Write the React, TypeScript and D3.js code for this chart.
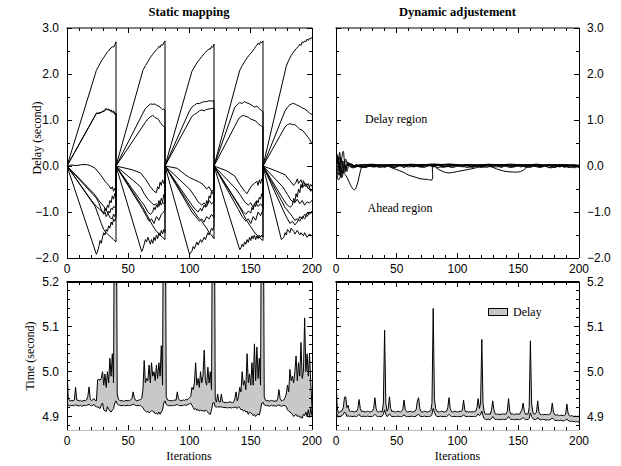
import React from "react";
import * as d3 from "d3";

type Pt = [number, number];

// ---------- tick values ----------
const iterTicks = [0, 50, 100, 150, 200];
const iterMinorTicks = d3.range(0, 201, 10);
const delayTicks = [-2, -1, 0, 1, 2, 3];
const delayMinorTicks = d3.range(-2, 3.001, 0.5);
const timeTicks = [4.9, 5.0, 5.1, 5.2];
const timeMinorTicks = d3.range(4.88, 5.2001, 0.02);

// ---------- static mapping: delay per processor (iteration, seconds) ----------
const staticTop: Pt[] = [[0,0],[24,2.08],[26,2.18],[28,2.28],[30,2.36],[32,2.44],[33,2.48],[34,2.5],[35,2.55],[36,2.56],[37,2.6],[38,2.58],[39,2.63],[40,2.7],
  [40,0],[62,2.08],[64,2.18],[66,2.27],[68,2.36],[70,2.43],[72,2.5],[74,2.55],[75,2.6],[76,2.58],[77,2.64],[78,2.62],[79,2.68],[80,2.72],
  [80,0],[102,2.06],[104,2.15],[106,2.24],[108,2.31],[110,2.38],[112,2.44],[113,2.47],[114,2.5],[115,2.52],[116,2.55],[117,2.54],[118,2.6],[119,2.58],[120,2.65],
  [120,0],[141,2.08],[143,2.18],[145,2.27],[147,2.35],[149,2.42],[151,2.48],[152,2.52],[153,2.55],[154,2.6],[155,2.62],[156,2.67],[157,2.64],[158,2.7],[159,2.68],[160,2.72],
  [160,0],[179,2.17],[181,2.3],[183,2.4],[185,2.48],[187,2.55],[189,2.6],[190,2.65],[191,2.62],[192,2.7],[193,2.68],[194,2.72],[195,2.7],[196,2.76],[197,2.73],[198,2.78],[199,2.76],[200,2.8]];
const staticMidA: Pt[] = [[0,0],[24,1.15],[26,1.15],[28,1.17],[30,1.2],[31,1.23],[32,1.25],[33,1.22],[34,1.24],[35,1.2],[36,1.22],[37,1.18],[38,1.2],[39,1.14],[40,1.15],
  [40,0],[62,1.15],[64,1.25],[66,1.3],[68,1.35],[70,1.34],[72,1.35],[73,1.32],[75,1.3],[76,1.28],[77,1.25],[78,1.22],[79,1.24],[80,1.22],
  [80,0],[100,1.2],[102,1.28],[104,1.32],[106,1.36],[108,1.36],[110,1.38],[112,1.4],[114,1.4],[116,1.42],[118,1.41],[120,1.42],
  [120,0],[137,1.28],[139,1.33],[141,1.38],[143,1.36],[145,1.4],[147,1.37],[149,1.35],[151,1.32],[153,1.28],[155,1.3],[157,1.25],[158,1.22],[159,1.2],[160,1.18],
  [160,0],[178,1.2],[180,1.28],[182,1.33],[184,1.36],[186,1.35],[188,1.32],[190,1.3],[192,1.26],[194,1.24],[196,1.2],[198,1.15],[200,1.12]];
const staticMidB: Pt[] = [[0,0],[24,1.14],[27,1.15],[29,1.18],[31,1.2],[32,1.24],[33,1.23],[35,1.21],[36,1.18],[38,1.17],[39,1.12],[40,1.13],
  [40,0],[64,0.95],[66,1.02],[68,1.07],[70,1.1],[71,1.08],[72,1.05],[74,1.03],[75,1.0],[76,0.95],[77,0.92],[78,0.88],[79,0.86],[80,0.85],
  [80,0],[102,1.08],[104,1.12],[106,1.15],[108,1.2],[110,1.22],[112,1.2],[114,1.23],[116,1.24],[118,1.25],[120,1.25],
  [120,0],[140,1.02],[142,1.08],[144,1.1],[146,1.08],[148,1.06],[150,1.02],[152,1.0],[154,0.98],[156,0.92],[158,0.88],[160,0.85],
  [160,0],[178,0.85],[180,0.9],[182,0.92],[184,0.9],[186,0.9],[188,0.85],[190,0.8],[192,0.78],[194,0.72],[196,0.65],[198,0.58],[200,0.48]];
const staticLowA: Pt[] = [[0,0],[3,0.02],[8,0.01],[12,0.03],[16,0.03],[19,0.01],[23,-0.05],[27,-0.18],[31,-0.33],[34,-0.42],[36,-0.5],[37,-0.45],[38,-0.55],[39,-0.48],[40,-0.55],
  [40,0],[53,-0.08],[60,-0.15],[64,-0.28],[68,-0.45],[71,-0.55],[73,-0.58],[74,-0.45],[75,-0.5],[76,-0.35],[77,-0.42],[78,-0.3],[79,-0.38],[80,-0.35],
  [80,0],[90,-0.05],[97,-0.2],[100,-0.25],[104,-0.3],[108,-0.35],[111,-0.4],[114,-0.5],[116,-0.45],[118,-0.55],[120,-0.5],
  [120,0],[130,-0.1],[137,-0.22],[141,-0.4],[145,-0.55],[147,-0.6],[149,-0.5],[151,-0.42],[153,-0.38],[155,-0.33],[156,-0.42],[157,-0.3],[158,-0.38],[159,-0.28],[160,-0.35],
  [160,0],[170,-0.1],[178,-0.19],[182,-0.32],[185,-0.42],[187,-0.35],[188,-0.28],[189,-0.38],[191,-0.3],[193,-0.45],[195,-0.38],[197,-0.5],[199,-0.4],[200,-0.45]];
const staticLowB: Pt[] = [[0,0],[24,-0.7],[26,-0.8],[28,-0.95],[30,-1.05],[31,-1.0],[32,-1.1],[33,-1.05],[34,-0.98],[35,-1.02],[36,-0.92],[37,-0.95],[38,-0.88],[39,-0.9],[40,-0.85],
  [40,0],[60,-0.45],[63,-0.6],[66,-0.72],[69,-0.8],[71,-0.85],[73,-0.82],[75,-0.88],[76,-0.8],[77,-0.85],[78,-0.78],[79,-0.82],[80,-0.8],
  [80,0],[100,-0.5],[104,-0.65],[107,-0.78],[110,-0.85],[112,-0.8],[114,-0.88],[116,-0.75],[118,-0.82],[120,-0.78],
  [120,0],[138,-0.5],[142,-0.65],[145,-0.78],[148,-0.85],[150,-0.8],[152,-0.9],[154,-0.78],[156,-0.88],[158,-0.82],[160,-0.9],
  [160,0],[176,-0.45],[180,-0.62],[183,-0.75],[186,-0.8],[188,-0.72],[190,-0.82],[192,-0.75],[194,-0.85],[196,-0.78],[198,-0.8],[200,-0.75]];
const staticLowC: Pt[] = [[0,0],[23,-0.88],[26,-1.1],[28,-1.25],[30,-1.38],[32,-1.45],[34,-1.5],[36,-1.55],[38,-1.6],[40,-1.65],
  [40,0],[62,-0.9],[65,-1.05],[68,-1.2],[70,-1.3],[72,-1.38],[74,-1.45],[76,-1.5],[78,-1.55],[80,-1.6],
  [80,0],[100,-0.85],[104,-1.0],[107,-1.12],[110,-1.2],[112,-1.28],[114,-1.35],[116,-1.45],[118,-1.5],[120,-1.58],
  [120,0],[141,-0.9],[144,-1.05],[147,-1.2],[150,-1.32],[152,-1.4],[154,-1.48],[156,-1.52],[158,-1.58],[160,-1.62],
  [160,0],[178,-0.9],[181,-1.0],[184,-1.1],[186,-1.18],[188,-1.15],[190,-1.2],[192,-1.1],[194,-1.15],[196,-1.02],[198,-1.05],[200,-0.98]];
const staticLowD: Pt[] = [[0,0],[24,-1.92],[25,-1.85],[26,-1.75],[27,-1.62],[28,-1.68],[29,-1.55],[30,-1.45],[31,-1.5],[32,-1.38],[33,-1.42],[34,-1.3],[35,-1.35],[36,-1.22],[37,-1.28],[38,-1.15],[39,-1.2],[40,-1.12],
  [40,0],[61,-1.86],[62,-1.8],[63,-1.7],[64,-1.6],[65,-1.65],[66,-1.55],[67,-1.62],[68,-1.7],[69,-1.6],[70,-1.68],[71,-1.55],[72,-1.62],[73,-1.5],[74,-1.58],[75,-1.45],[76,-1.52],[77,-1.4],[78,-1.48],[79,-1.38],[80,-1.45],
  [80,0],[100,-1.92],[102,-1.85],[103,-1.75],[104,-1.8],[106,-1.65],[107,-1.72],[109,-1.6],[110,-1.66],[112,-1.55],[113,-1.6],[115,-1.45],[116,-1.5],[118,-1.35],[119,-1.4],[120,-1.3],
  [120,0],[141,-1.82],[142,-1.78],[143,-1.7],[144,-1.75],[145,-1.65],[146,-1.7],[147,-1.6],[148,-1.66],[149,-1.55],[150,-1.62],[151,-1.52],[152,-1.58],[153,-1.5],[154,-1.6],[155,-1.52],[156,-1.58],[157,-1.5],[158,-1.55],[159,-1.5],[160,-1.55],
  [160,0],[175,-1.6],[177,-1.55],[178,-1.45],[179,-1.5],[180,-1.38],[182,-1.45],[183,-1.35],[185,-1.42],[186,-1.48],[188,-1.4],[190,-1.5],[191,-1.45],[193,-1.52],[194,-1.45],[196,-1.55],[198,-1.48],[200,-1.52]];
const staticLowE: Pt[] = [[0,0],[20,-0.75],[24,-0.88],[26,-0.92],[28,-0.98],[30,-1.02],[31,-0.92],[32,-0.98],[33,-0.85],[34,-0.9],[35,-0.75],[36,-0.8],[37,-0.65],[38,-0.72],[39,-0.6],[40,-0.65],
  [40,0],[60,-0.75],[63,-0.85],[66,-1.0],[68,-1.05],[70,-1.0],[71,-0.9],[72,-0.95],[73,-0.85],[74,-0.9],[75,-0.75],[76,-0.82],[77,-0.7],[78,-0.78],[79,-0.62],[80,-0.68],
  [80,0],[98,-0.7],[102,-0.85],[105,-0.95],[107,-1.0],[109,-0.92],[110,-0.98],[112,-0.85],[113,-0.9],[114,-0.75],[115,-0.82],[116,-0.65],[117,-0.7],[118,-0.55],[119,-0.6],[120,-0.48],
  [120,0],[138,-0.75],[141,-0.88],[144,-1.0],[146,-1.05],[148,-0.98],[150,-1.02],[151,-0.9],[152,-0.95],[153,-0.82],[154,-0.88],[155,-0.75],[156,-0.8],[157,-0.68],[158,-0.72],[159,-0.6],[160,-0.65],
  [160,0],[176,-0.7],[179,-0.82],[182,-0.9],[184,-0.85],[185,-0.7],[186,-0.78],[187,-0.6],[188,-0.68],[189,-0.5],[190,-0.58],[191,-0.4],[192,-0.48],[193,-0.32],[195,-0.45],[197,-0.38],[199,-0.55],[200,-0.5]];
const staticLowF: Pt[] = [[0,0],[22,-0.6],[26,-0.75],[30,-0.88],[33,-1.0],[35,-1.12],[37,-1.15],[38,-1.05],[39,-1.1],[40,-1.0],
  [40,0],[62,-0.95],[65,-1.1],[67,-1.2],[69,-1.15],[71,-1.25],[73,-1.1],[75,-1.18],[77,-1.05],[79,-1.0],[80,-0.95],
  [80,0],[102,-1.0],[105,-1.1],[108,-1.2],[110,-1.15],[112,-1.22],[114,-1.1],[116,-1.15],[118,-1.05],[120,-1.12],
  [120,0],[140,-0.95],[143,-1.1],[146,-1.2],[148,-1.15],[150,-1.25],[152,-1.1],[154,-1.18],[156,-1.0],[158,-1.08],[160,-0.95],
  [160,0],[178,-1.05],[180,-1.15],[182,-1.25],[184,-1.2],[186,-1.28],[188,-1.22],[190,-1.1],[192,-1.15],[194,-1.05],[196,-1.1],[198,-1.0],[200,-1.02]];
const staticSeries = [staticTop, staticMidA, staticMidB, staticLowA, staticLowB, staticLowC, staticLowD, staticLowE, staticLowF];

// ---------- dynamic adjustment: delay per processor ----------
const dynA: Pt[] = [[0,0],[2,0.1],[4,-0.05],[6,-0.15],[8,-0.2],[10,-0.3],[12,-0.42],[14,-0.5],[15,-0.52],[16,-0.5],[18,-0.35],[20,-0.12],[22,0.02],[25,0.03],[30,0.0],[35,0.02],[40,0.01],[45,0.03],[50,0.02],[60,0.03],[70,0.02],[80,0.04],[90,0.03],[100,0.02],[110,0.03],[120,0.02],[130,0.03],[140,0.02],[150,0.03],[160,0.02],[170,0.03],[180,0.02],[190,0.03],[200,0.02]];
const dynB: Pt[] = [[0,0],[2,-0.2],[4,0.15],[6,0.05],[8,-0.1],[10,0.05],[14,0.02],[20,-0.02],[25,0.01],[30,-0.02],[35,0.0],[40,0.03],[45,-0.03],[50,-0.08],[55,-0.13],[60,-0.2],[65,-0.24],[70,-0.28],[75,-0.29],[79,-0.3],[80,0.03],[85,0.02],[90,0.04],[100,0.03],[110,0.0],[120,0.02],[130,0.03],[140,0.01],[150,0.0],[160,0.02],[170,0.01],[180,0.03],[190,0.02],[200,0.0]];
const dynC: Pt[] = [[0,0],[2,0.2],[3,-0.1],[5,-0.25],[6,-0.1],[8,0.1],[10,0.05],[15,-0.02],[20,0.02],[30,0.03],[40,0.02],[50,0.03],[60,0.02],[70,0.03],[80,0.02],[83,-0.05],[88,-0.12],[92,-0.15],[100,-0.12],[108,-0.08],[115,-0.04],[120,0.0],[125,0.02],[135,0.03],[145,0.01],[155,0.02],[165,0.0],[175,0.02],[185,0.01],[195,0.0],[200,-0.02]];
const dynD: Pt[] = [[0,0],[1,0.25],[2,0.1],[3,0.3],[4,0.0],[5,-0.15],[7,-0.1],[9,0.05],[12,0.0],[18,0.02],[25,-0.01],[32,0.02],[40,0.0],[48,0.02],[56,0.0],[64,0.02],[72,0.0],[80,0.02],[90,0.0],[100,0.02],[110,0.0],[120,0.02],[126,0.0],[132,-0.06],[138,-0.11],[145,-0.13],[152,-0.12],[156,-0.05],[158,0.02],[165,0.0],[175,0.02],[185,-0.01],[195,0.01],[200,0.0]];
const dynE: Pt[] = [[0,0],[1,-0.1],[3,0.2],[5,0.05],[7,-0.15],[9,0.0],[12,0.05],[16,-0.02],[20,0.03],[24,-0.03],[28,0.02],[32,-0.02],[36,0.03],[40,-0.03],[44,0.02],[48,-0.02],[52,0.01],[56,-0.03],[60,0.02],[64,-0.02],[68,0.02],[72,-0.01],[76,0.03],[80,-0.02],[84,0.02],[88,-0.03],[92,0.01],[96,-0.02],[100,0.03],[104,-0.02],[108,0.02],[112,-0.03],[116,0.01],[120,-0.02],[124,0.03],[128,-0.02],[132,0.02],[136,-0.03],[140,0.01],[144,-0.02],[148,0.03],[152,-0.02],[156,0.02],[160,-0.03],[164,0.02],[168,-0.02],[172,0.01],[176,-0.03],[180,0.03],[184,-0.02],[188,0.02],[192,-0.03],[196,0.02],[200,-0.02]];
const dynF: Pt[] = [[0,0],[2,-0.3],[4,-0.2],[6,0.1],[8,-0.05],[10,0.08],[13,-0.02],[17,0.03],[21,-0.03],[26,0.0],[31,0.03],[36,-0.01],[42,0.02],[47,-0.03],[53,0.02],[58,0.0],[63,0.03],[69,-0.02],[74,0.02],[79,0.0],[85,0.03],[90,-0.02],[96,0.02],[101,-0.01],[107,0.03],[113,-0.02],[118,0.02],[124,-0.03],[129,0.02],[135,0.0],[141,0.03],[146,-0.02],[152,0.02],[158,-0.03],[163,0.03],[169,-0.01],[174,0.02],[180,-0.03],[185,0.03],[191,0.0],[196,0.02],[200,-0.03]];
const dynG: Pt[] = [[0,0],[1,0.15],[3,-0.2],[5,0.22],[6,0.32],[7,0.1],[9,-0.12],[11,0.04],[15,0.0],[22,0.02],[30,0.04],[38,0.01],[46,0.03],[54,0.02],[62,0.04],[70,0.02],[78,0.04],[86,0.02],[94,0.04],[102,0.01],[110,0.03],[118,0.02],[126,0.04],[134,0.02],[142,0.04],[150,0.03],[158,0.02],[166,0.04],[172,0.0],[176,-0.04],[180,-0.02],[184,0.03],[188,-0.03],[192,0.02],[196,-0.04],[200,0.01]];
const dynH: Pt[] = [[0,0],[2,0.1],[4,-0.25],[6,-0.05],[8,0.15],[10,0.02],[14,-0.04],[18,0.0],[24,-0.03],[30,0.01],[36,-0.03],[42,0.0],[48,-0.03],[54,0.01],[60,-0.02],[66,0.0],[72,-0.03],[78,0.01],[84,-0.03],[90,0.0],[96,-0.03],[102,0.01],[108,-0.03],[114,0.0],[120,-0.03],[126,0.01],[132,-0.02],[138,0.0],[144,-0.03],[150,0.01],[156,-0.02],[162,0.0],[168,-0.03],[174,0.01],[180,-0.02],[186,0.0],[192,-0.03],[198,-0.01],[200,-0.04]];
const dynamicSeries = [dynA, dynB, dynC, dynD, dynE, dynF, dynG, dynH];

// ---------- iteration time (seconds), one value per iteration 0..200 ----------
const staticUpper = [
  5.01,4.94,4.936,4.935,4.936,4.935,4.937,4.965,4.937,4.936,
  4.935,4.936,4.934,4.935,4.936,4.935,4.937,4.945,4.966,4.938,
  4.936,4.937,4.94,4.936,4.935,4.982,4.983,4.981,4.985,5.0,
  4.97,4.995,4.965,5.0,4.975,5.03,4.99,5.04,4.975,5.6,
  5.6,4.95,4.938,4.936,4.935,4.936,4.934,4.935,4.936,4.935,
  4.936,4.935,4.937,4.94,4.955,4.942,4.936,4.935,4.936,4.937,
  4.938,4.94,4.96,5.025,4.975,4.985,4.98,5.015,4.975,5.02,
  4.99,5.0,4.98,5.015,4.985,5.02,4.99,5.058,4.97,5.6,
  5.6,4.945,4.937,4.936,4.935,4.936,4.935,4.936,4.937,4.936,
  4.955,4.94,4.936,4.935,4.936,4.937,4.936,4.938,4.937,4.94,
  4.942,4.945,4.965,4.96,4.975,5.02,4.97,4.985,4.965,5.0,
  4.975,4.99,5.048,4.98,4.97,5.01,4.975,5.0,4.96,5.6,
  5.6,4.94,4.932,4.95,4.933,4.932,4.95,4.933,4.932,4.931,
  4.932,4.931,4.932,4.933,4.932,4.931,4.932,4.94,4.955,4.935,
  4.945,4.965,4.955,5.0,4.97,4.98,4.96,5.04,4.975,4.995,
  4.97,5.02,4.97,5.062,4.98,5.055,4.985,5.03,4.97,5.6,
  5.6,4.945,4.936,4.935,4.936,4.934,4.935,4.936,4.935,4.934,
  4.935,4.934,4.94,4.96,4.94,4.935,4.936,4.937,4.942,4.95,
  4.97,4.955,5.005,4.98,4.99,4.975,5.0,5.035,4.98,5.02,
  4.99,5.065,4.985,5.0,5.12,5.0,5.04,4.99,5.04,4.975,4.92];
const staticLower = [
  4.93,4.925,4.924,4.924,4.925,4.924,4.925,4.926,4.925,4.924,
  4.924,4.925,4.923,4.924,4.925,4.924,4.925,4.926,4.927,4.925,
  4.924,4.925,4.927,4.923,4.922,4.921,4.92,4.918,4.925,4.93,
  4.915,4.913,4.911,4.922,4.916,4.912,4.91,4.914,4.918,4.93,
  4.935,4.928,4.926,4.925,4.924,4.925,4.924,4.925,4.924,4.925,
  4.925,4.924,4.925,4.926,4.928,4.926,4.925,4.924,4.925,4.924,
  4.925,4.922,4.92,4.915,4.912,4.91,4.912,4.908,4.91,4.913,
  4.912,4.91,4.906,4.908,4.905,4.91,4.905,4.91,4.915,4.93,
  4.935,4.927,4.925,4.924,4.925,4.924,4.925,4.924,4.925,4.926,
  4.927,4.925,4.924,4.925,4.924,4.925,4.926,4.925,4.926,4.927,
  4.928,4.93,4.925,4.92,4.915,4.918,4.914,4.916,4.912,4.915,
  4.912,4.914,4.911,4.915,4.912,4.91,4.906,4.905,4.915,4.93,
  4.932,4.922,4.921,4.922,4.921,4.922,4.921,4.921,4.92,4.92,
  4.92,4.919,4.92,4.92,4.919,4.92,4.92,4.921,4.92,4.918,
  4.922,4.92,4.915,4.916,4.912,4.914,4.91,4.912,4.905,4.91,
  4.908,4.906,4.902,4.905,4.9,4.904,4.906,4.903,4.915,4.93,
  4.932,4.926,4.925,4.924,4.925,4.923,4.924,4.925,4.924,4.924,
  4.924,4.923,4.925,4.926,4.924,4.923,4.924,4.925,4.924,4.922,
  4.915,4.912,4.91,4.908,4.905,4.9,4.903,4.905,4.9,4.902,
  4.898,4.9,4.896,4.905,4.902,4.91,4.9,4.915,4.898,4.92,4.9];
const dynamicUpper = [
  4.985,4.92,4.908,4.91,4.912,4.913,4.92,4.943,4.944,4.92,
  4.925,4.912,4.911,4.912,4.911,4.91,4.912,4.911,4.918,4.938,
  4.918,4.911,4.912,4.911,4.91,4.911,4.912,4.911,4.91,4.911,
  4.912,4.918,4.942,4.918,4.911,4.91,4.912,4.911,4.91,4.93,
  5.093,4.93,4.912,4.918,4.944,4.918,4.911,4.912,4.911,4.91,
  4.911,4.912,4.911,4.91,4.912,4.916,4.937,4.916,4.911,4.91,
  4.911,4.912,4.911,4.91,4.911,4.912,4.916,4.935,4.942,4.918,
  4.911,4.91,4.911,4.912,4.911,4.91,4.911,4.912,4.913,4.93,
  5.141,4.94,4.918,4.912,4.911,4.91,4.911,4.912,4.911,4.91,
  4.911,4.912,4.92,4.942,4.918,4.911,4.91,4.911,4.912,4.911,
  4.91,4.911,4.912,4.911,4.915,4.937,4.915,4.91,4.911,4.91,
  4.911,4.91,4.911,4.91,4.911,4.912,4.92,4.94,4.918,4.93,
  5.072,4.93,4.91,4.905,4.906,4.905,4.906,4.905,4.915,4.935,
  4.915,4.906,4.905,4.906,4.905,4.904,4.906,4.905,4.906,4.905,
  4.906,4.912,4.94,4.912,4.905,4.906,4.905,4.904,4.906,4.905,
  4.906,4.905,4.91,4.915,4.93,4.912,4.905,4.906,4.905,4.92,
  5.069,4.93,4.91,4.905,4.906,4.91,4.935,4.91,4.905,4.904,
  4.905,4.904,4.905,4.904,4.905,4.904,4.905,4.91,4.93,4.91,
  4.904,4.903,4.904,4.903,4.902,4.903,4.902,4.903,4.902,4.905,
  4.928,4.908,4.902,4.901,4.902,4.901,4.9,4.901,4.9,4.901,4.9];
const dynamicLower = [
  4.91,4.905,4.899,4.9,4.901,4.902,4.905,4.91,4.908,4.9,
  4.902,4.9,4.901,4.9,4.9,4.901,4.9,4.9,4.902,4.905,
  4.901,4.9,4.9,4.901,4.9,4.9,4.901,4.9,4.9,4.9,
  4.9,4.902,4.905,4.902,4.9,4.9,4.9,4.9,4.901,4.905,
  4.915,4.905,4.9,4.902,4.906,4.902,4.9,4.9,4.9,4.9,
  4.9,4.901,4.9,4.9,4.9,4.901,4.904,4.901,4.9,4.9,
  4.9,4.9,4.901,4.9,4.9,4.9,4.901,4.904,4.905,4.901,
  4.9,4.9,4.9,4.901,4.9,4.9,4.9,4.9,4.901,4.905,
  4.918,4.91,4.903,4.9,4.9,4.9,4.901,4.9,4.9,4.9,
  4.9,4.9,4.902,4.905,4.902,4.9,4.9,4.9,4.9,4.9,
  4.9,4.9,4.9,4.9,4.901,4.904,4.901,4.9,4.9,4.9,
  4.9,4.9,4.9,4.9,4.9,4.9,4.902,4.906,4.902,4.904,
  4.912,4.902,4.895,4.894,4.893,4.894,4.894,4.893,4.896,4.9,
  4.896,4.894,4.893,4.894,4.893,4.893,4.894,4.893,4.894,4.893,
  4.894,4.896,4.9,4.896,4.893,4.894,4.893,4.893,4.894,4.893,
  4.894,4.893,4.894,4.895,4.898,4.895,4.893,4.894,4.893,4.896,
  4.908,4.9,4.895,4.894,4.893,4.894,4.898,4.894,4.893,4.893,
  4.894,4.893,4.893,4.892,4.893,4.892,4.893,4.894,4.897,4.894,
  4.892,4.891,4.892,4.891,4.891,4.892,4.891,4.89,4.891,4.892,
  4.895,4.891,4.89,4.889,4.89,4.889,4.889,4.888,4.889,4.888,4.888];

// ---------- layout ----------
const W = 621, H = 466;
const SANS = "'Liberation Sans', Arial, Helvetica, sans-serif";
const SERIF = "'Liberation Serif', 'Times New Roman', Times, serif";
const FILL = "#c8c8c8";

const xLeft = d3.scaleLinear().domain([0, 200]).range([67, 312]);
const xRight = d3.scaleLinear().domain([0, 200]).range([336, 579]);
const yDelay = d3.scaleLinear().domain([-2, 3]).range([258, 28]);
const yTime = d3.scaleLinear().domain([4.87, 5.2]).range([430, 282]);

const isIn = (arr: number[], v: number) => arr.some((m) => Math.abs(m - v) < 1e-6);

function Axes(props: any) {
  const { x, y, yMajor, yMinor, side, fmt, xLabelY, topW, bottomColor } = props;
  const [x0, x1] = x.range();
  const [yb, yt] = y.range();
  return (
    <g>
      <g stroke="#000" strokeWidth={1} shapeRendering="crispEdges">
        {iterMinorTicks.map((v) => {
          const len = isIn(iterTicks, v) ? 5 : 3;
          const px = x(v);
          return (
            <g key={"x" + v}>
              <line x1={px} x2={px} y1={yb} y2={yb - len} />
              <line x1={px} x2={px} y1={yt} y2={yt + len} />
            </g>
          );
        })}
        {yMinor.map((v: number) => {
          const len = isIn(yMajor, v) ? 5 : 3;
          const py = y(v);
          return (
            <g key={"y" + v}>
              <line x1={x0} x2={x0 + len} y1={py} y2={py} />
              <line x1={x1} x2={x1 - len} y1={py} y2={py} />
            </g>
          );
        })}
        <line x1={x0} x2={x0} y1={yt} y2={yb} />
        <line x1={x1} x2={x1} y1={yt} y2={yb} />
        <line x1={x0} x2={x1} y1={yb} y2={yb} stroke={bottomColor} />
      </g>
      <line x1={x0 - 0.5} x2={x1 + 0.5} y1={yt} y2={yt} stroke="#000" strokeWidth={topW} />
      <g fontFamily={SANS} fontSize={12} fill="#000">
        {iterTicks.map((v) => (
          <text key={"xl" + v} x={x(v)} y={xLabelY} textAnchor="middle">{v}</text>
        ))}
        {yMajor.map((v: number) => (
          <text key={"yl" + v} x={side === "left" ? x0 - 8 : x1 + 8} y={y(v)} dy="0.36em"
            textAnchor={side === "left" ? "end" : "start"}>{fmt(v)}</text>
        ))}
      </g>
    </g>
  );
}

function App() {
  const lineL = d3.line<Pt>().x((d) => xLeft(d[0])).y((d) => yDelay(d[1]));
  const lineR = d3.line<Pt>().x((d) => xRight(d[0])).y((d) => yDelay(d[1])).curve(d3.curveCatmullRom.alpha(0.5));
  const idx = d3.range(0, 201);
  const areaL = d3.area<number>().x((i) => xLeft(i)).y0((i) => yTime(staticLower[i])).y1((i) => yTime(staticUpper[i]));
  const areaR = d3.area<number>().x((i) => xRight(i)).y0((i) => yTime(dynamicLower[i])).y1((i) => yTime(dynamicUpper[i]));
  const upL = d3.line<number>().x((i) => xLeft(i)).y((i) => yTime(staticUpper[i]));
  const loL = d3.line<number>().x((i) => xLeft(i)).y((i) => yTime(staticLower[i]));
  const upR = d3.line<number>().x((i) => xRight(i)).y((i) => yTime(dynamicUpper[i]));
  const loR = d3.line<number>().x((i) => xRight(i)).y((i) => yTime(dynamicLower[i]));
  const f1 = d3.format(".1f");

  return (
    <svg width={W} height={H} viewBox={`0 0 ${W} ${H}`}
      style={{ position: "absolute", left: 0, top: 0, display: "block", background: "#fff" }}>
      <defs>
        <clipPath id="cTL"><rect x={67} y={28} width={245} height={230} /></clipPath>
        <clipPath id="cTR"><rect x={336} y={28} width={243} height={230} /></clipPath>
        <clipPath id="cBL"><rect x={67} y={282} width={245} height={148} /></clipPath>
        <clipPath id="cBR"><rect x={336} y={282} width={243} height={148} /></clipPath>
      </defs>
      <rect x={0} y={0} width={W} height={H} fill="#fff" />

      {/* titles */}
      <text x={189} y={16} textAnchor="middle" fontFamily={SERIF} fontWeight="bold" fontSize={12.5}>Static mapping</text>
      <text x={457.5} y={16} textAnchor="middle" fontFamily={SERIF} fontWeight="bold" fontSize={12.5}>Dynamic adjustement</text>

      {/* top-left data */}
      <g clipPath="url(#cTL)" fill="none" stroke="#000" strokeWidth={1} strokeLinejoin="round">
        {staticSeries.map((s, i) => <path key={i} d={lineL(s) || ""} />)}
      </g>
      {/* top-right data */}
      <g clipPath="url(#cTR)" fill="none" stroke="#000" strokeWidth={1} strokeLinejoin="round">
        {dynamicSeries.map((s, i) => <path key={i} d={lineR(s) || ""} />)}
      </g>
      {/* bottom-left */}
      <g clipPath="url(#cBL)">
        <path d={areaL(idx) || ""} fill={FILL} />
        <path d={upL(idx) || ""} fill="none" stroke="#000" strokeWidth={1} />
        <path d={loL(idx) || ""} fill="none" stroke="#000" strokeWidth={1} />
      </g>
      {/* bottom-right */}
      <g clipPath="url(#cBR)">
        <path d={areaR(idx) || ""} fill={FILL} />
        <path d={upR(idx) || ""} fill="none" stroke="#000" strokeWidth={1} />
        <path d={loR(idx) || ""} fill="none" stroke="#000" strokeWidth={1} />
      </g>

      <Axes x={xLeft} y={yDelay} yMajor={delayTicks} yMinor={delayMinorTicks} side="left" fmt={f1} xLabelY={273} topW={1} bottomColor="#000" />
      <Axes x={xRight} y={yDelay} yMajor={delayTicks} yMinor={delayMinorTicks} side="right" fmt={f1} xLabelY={273} topW={1} bottomColor="#000" />
      <Axes x={xLeft} y={yTime} yMajor={timeTicks} yMinor={timeMinorTicks} side="left" fmt={f1} xLabelY={445} topW={2} bottomColor="#bbb" />
      <Axes x={xRight} y={yTime} yMajor={timeTicks} yMinor={timeMinorTicks} side="right" fmt={f1} xLabelY={445} topW={2} bottomColor="#bbb" />

      {/* axis titles */}
      <text transform="translate(41,138) rotate(-90)" textAnchor="middle" fontFamily={SERIF} fontSize={12}>Delay (second)</text>
      <text transform="translate(34,356) rotate(-90)" textAnchor="middle" fontFamily={SERIF} fontSize={12}>Time (second)</text>
      <text x={189} y={460} textAnchor="middle" fontFamily={SERIF} fontSize={12}>Iterations</text>
      <text x={457.5} y={460} textAnchor="middle" fontFamily={SERIF} fontSize={12}>Iterations</text>

      {/* region annotations */}
      <text x={365} y={123} fontFamily={SERIF} fontSize={12}>Delay region</text>
      <text x={367.5} y={212} fontFamily={SERIF} fontSize={12}>Ahead region</text>

      {/* legend */}
      <rect x={488.5} y={308.5} width={19} height={7} fill={FILL} stroke="#000" strokeWidth={1} />
      <text x={513} y={316} fontFamily={SERIF} fontSize={12}>Delay</text>
    </svg>
  );
}

export default App;
